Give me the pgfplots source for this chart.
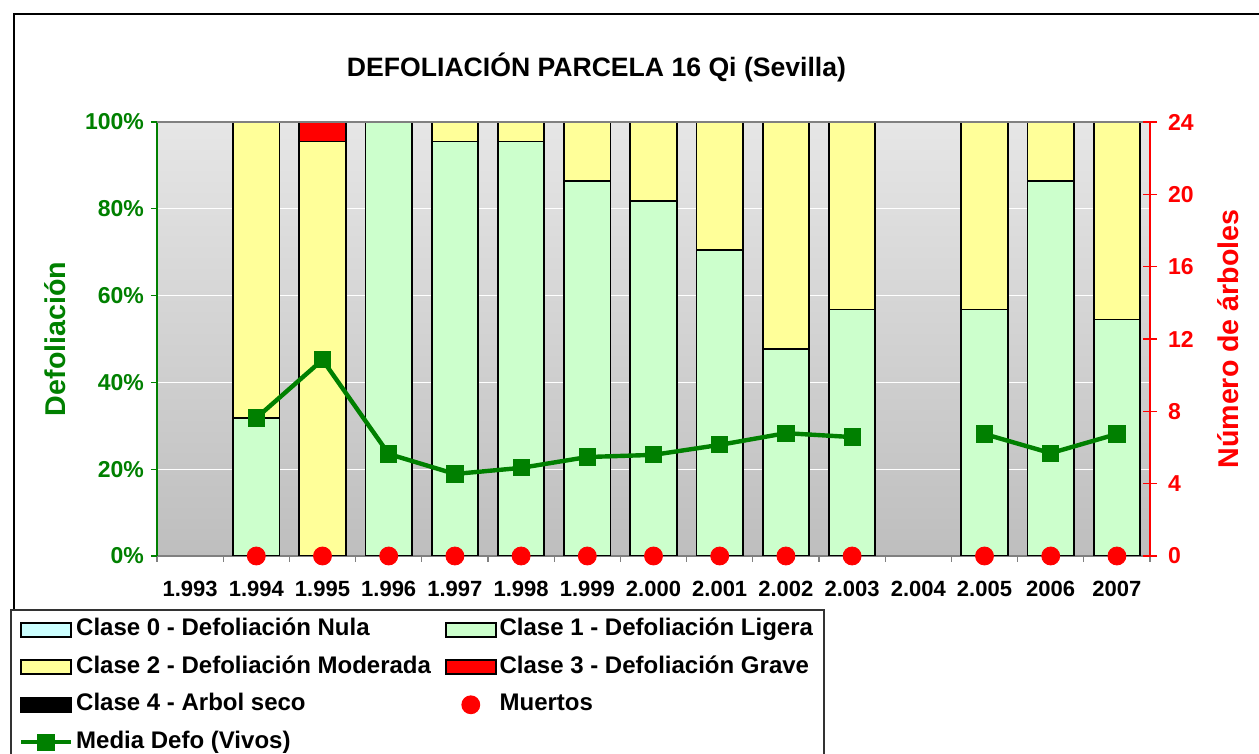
\documentclass[border=0pt]{standalone}
\usepackage{pgfplots}
\usepackage{pgfplotstable}
\pgfplotsset{compat=1.18}
\usepackage{fontspec}
\setmainfont{Liberation Sans}
\definecolor{c0}{HTML}{CCFFFF}
\definecolor{c1}{HTML}{CCFFCC}
\definecolor{c2}{HTML}{FFFF99}
\definecolor{c3}{HTML}{FF0000}
\definecolor{dgreen}{HTML}{008000}
\definecolor{bgtop}{HTML}{E6E6E6}
\definecolor{bgbot}{HTML}{BEBEBE}

\pgfplotstableread{
x c1 c2 c3
1 31.8 68.2 0
2 0 95.5 4.5
3 100 0 0
4 95.5 4.5 0
5 95.5 4.5 0
6 86.4 13.6 0
7 81.8 18.2 0
8 70.5 29.5 0
9 47.7 52.3 0
10 56.8 43.2 0
12 56.8 43.2 0
13 86.4 13.6 0
14 54.5 45.5 0
}\clases

\pgfplotstableread{
x m
0 nan
1 31.8
2 45.2
3 23.5
4 18.9
5 20.3
6 22.8
7 23.3
8 25.6
9 28.3
10 27.4
11 nan
12 28.1
13 23.7
14 28.1
}\media

\pgfplotstableread{
x n
1 0
2 0
3 0
4 0
5 0
6 0
7 0
8 0
9 0
10 0
12 0
13 0
14 0
}\muertos

\pgfplotsset{
  common/.style={
    at={(78.5pt,99pt)}, anchor=south west,
    width=496.5pt, height=217pt, scale only axis,
    xmin=-0.5, xmax=14.5,
  },
  boxlegend/.style={legend image code/.code={\draw[##1] (0pt,-3.5pt) rectangle (25pt,3.5pt);}},
  dotlegend/.style={legend image code/.code={\draw[##1] plot coordinates {(12.5pt,0pt)};}},
  linelegend/.style={legend image code/.code={\draw[##1] (0pt,0pt) -- (25pt,0pt); \draw[##1] plot coordinates {(12.5pt,0pt)};}},
}

\begin{document}
\begin{tikzpicture}
\useasboundingbox (0,0) rectangle (629.5pt,377pt);
\clip (0,0) rectangle (629.5pt,377pt);
\draw[black, line width=0.6pt] (7pt,-5pt) -- (7pt,370pt) -- (640pt,370pt);
\node[font=\fontsize{13.3}{15}\selectfont\bfseries] at (298.25pt,343.5pt) {DEFOLIACIÓN PARCELA 16 Qi (Sevilla)};

% bars
\begin{axis}[common,
  ymin=0, ymax=100,
  ybar stacked, bar width=0.7,
  axis background/.style={top color=bgtop, bottom color=bgbot},
  axis x line*=bottom, axis y line*=left,
  x axis line style={draw=gray, line width=0.6pt},
  y axis line style={draw=dgreen, line width=0.6pt},
  xtick={0,...,14},
  xticklabels={1.993,1.994,1.995,1.996,1.997,1.998,1.999,2.000,2.001,2.002,2.003,2.004,2.005,2006,2007},
  major x tick style={draw=none},
  minor xtick={-0.5,0.5,...,14.5},
  minor x tick style={draw=gray, line width=0.6pt},
  minor tick length=3pt,
  tick align=outside,
  xticklabel style={font=\fontsize{11}{12}\selectfont\bfseries, text=black, yshift=-6pt},
  ytick={0,20,40,60,80,100},
  yticklabels={0\%,20\%,40\%,60\%,80\%,100\%},
  yticklabel style={font=\fontsize{11.5}{12}\selectfont\bfseries, text=dgreen},
  major y tick style={draw=dgreen, line width=0.6pt},
  major tick length=3pt,
  ymajorgrids, grid style={white, line width=0.6pt},
  ylabel={Defoliación},
  ylabel style={at={(axis description cs:-0.1027,0.5)}, anchor=center, rotate=0,
    font=\fontsize{14.3}{16}\selectfont\bfseries, text=dgreen},
  extra description/.code={\draw[gray, line width=0.6pt] (axis description cs:0,1) -- (axis description cs:1,1);},
]
\addplot[fill=c1, draw=black, line width=0.9pt] table[x=x,y=c1]{\clases};
\addplot[fill=c2, draw=black, line width=0.9pt] table[x=x,y=c2]{\clases};
\addplot[fill=c3, draw=black, line width=0.9pt] table[x=x,y=c3]{\clases};
\end{axis}

% line
\begin{axis}[common, ymin=0, ymax=100, hide axis, unbounded coords=jump]
\addplot[dgreen, line width=2.2pt, mark=square*, mark size=3.2pt, mark options={solid}] table[x=x,y=m]{\media};
\end{axis}

% right axis, dots and legend
\begin{axis}[common, ymin=0, ymax=24,
  axis x line=none, axis y line*=right,
  y axis line style={draw=red, line width=0.8pt},
  ytick={0,4,...,24},
  yticklabel style={font=\fontsize{11.5}{12}\selectfont\bfseries, text=red, xshift=2pt},
  /pgf/number format/assume math mode=true,
  major y tick style={draw=red, line width=0.8pt},
  major tick length=7pt, tick align=center,
  ylabel={Número de árboles},
  ylabel style={at={(axis description cs:1.0785,0.5)}, anchor=center, rotate=0,
    font=\fontsize{14.3}{16}\selectfont\bfseries, text=red},
  clip=false,
  legend columns=2,
  legend cell align=left,
  legend style={at={(axis description cs:-0.148,-0.1221)}, anchor=north west,
    draw=black!80, line width=0.8pt, fill=white,
    inner xsep=4pt, inner ysep=4pt, row sep=6.75pt,
    font=\fontsize{12}{14}\selectfont\bfseries,
    nodes={inner xsep=1.5pt, inner ysep=0pt, text height=9pt, text depth=3pt},
    /tikz/every even column/.append style={column sep=5.5pt}},
]
\addplot[only marks, mark=*, mark size=4.5pt, mark options={fill=red, draw=red}, forget plot] table[x=x,y=n]{\muertos};
\addlegendimage{boxlegend, fill=c0, draw=black, line width=0.8pt}
\addlegendentry{Clase 0 - Defoliación Nula}
\addlegendimage{boxlegend, fill=c1, draw=black, line width=0.8pt}
\addlegendentry{Clase 1 - Defoliación Ligera}
\addlegendimage{boxlegend, fill=c2, draw=black, line width=0.8pt}
\addlegendentry{Clase 2 - Defoliación Moderada}
\addlegendimage{boxlegend, fill=c3, draw=black, line width=0.8pt}
\addlegendentry{Clase 3 - Defoliación Grave}
\addlegendimage{boxlegend, fill=black, draw=black, line width=0.8pt}
\addlegendentry{Clase 4 - Arbol seco}
\addlegendimage{dotlegend, only marks, mark=*, mark size=4.3pt, mark options={fill=red, draw=red}}
\addlegendentry{Muertos}
\addlegendimage{linelegend, dgreen, line width=2.2pt, mark=square*, mark size=3.2pt}
\addlegendentry{Media Defo (Vivos)}
\end{axis}
\end{tikzpicture}
\end{document}
